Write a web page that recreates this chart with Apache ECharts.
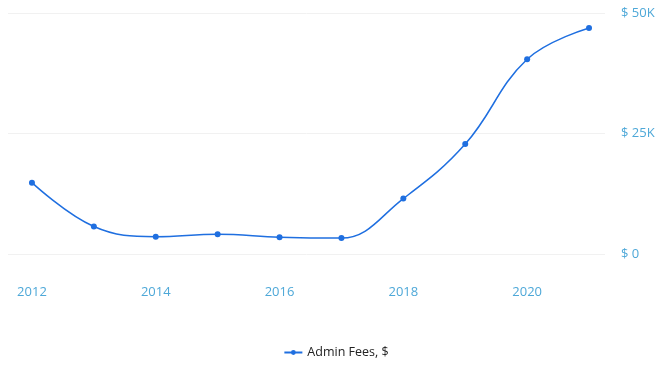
<!DOCTYPE html>
<html>
<head>
<meta charset="utf-8">
<script src="https://cdn.jsdelivr.net/npm/echarts@6/dist/echarts.min.js"></script>
<style>
  html, body { margin: 0; padding: 0; background: #fff; }
  #main { width: 672px; height: 368px; }
</style>
</head>
<body>
<div id="main"></div>
<script>
var years = [2012, 2013, 2014, 2015, 2016, 2017, 2018, 2019, 2020, 2021];
var adminFees = [14800, 5700, 3600, 4100, 3500, 3300, 11500, 22800, 40400, 46900];
var xTicks = [2012, 2014, 2016, 2018, 2020];
var yTicks = [0, 25000, 50000];

var chart = echarts.init(document.getElementById('main'));

var points = years.map(function (y, i) { return [y, adminFees[i]]; });

var option = {
    animation: false,
    textStyle: { fontFamily: 'Open Sans' },
    grid: { left: 8, right: 67, top: 13, bottom: 114 },
    legend: {
        bottom: 4,
        left: 'center',
        itemWidth: 18,
        itemHeight: 6,
        itemGap: 4,
        textStyle: { color: '#222', fontSize: 12.5 },
        data: ['Admin Fees, $']
    },
    xAxis: {
        type: 'value',
        min: 2011.613,
        max: 2021.258,
        axisLine: { show: false },
        axisTick: { show: false },
        splitLine: { show: false },
        axisLabel: {
            customValues: xTicks,
            color: '#4ea8d8',
            fontSize: 13,
            margin: 32,
            formatter: function (v) { return String(v); }
        }
    },
    yAxis: {
        type: 'value',
        position: 'right',
        min: yTicks[0],
        max: yTicks[2],
        interval: 25000,
        axisLine: { show: false },
        axisTick: { show: false },
        splitLine: { lineStyle: { color: '#f1f1f1' } },
        axisLabel: {
            color: '#4ea8d8',
            fontSize: 13,
            margin: 16,
            formatter: function (v) {
                return v === 0 ? '$ 0' : '$ ' + (v / 1000) + 'K';
            }
        }
    },
    series: [{
        name: 'Admin Fees, $',
        type: 'line',
        smooth: 0.4,
        data: points,
        symbol: 'circle',
        symbolSize: 6,
        lineStyle: { color: '#1f6fe0', width: 1.5 },
        itemStyle: { color: '#1f6fe0' }
    }]
};

chart.setOption(option);
</script>
</body>
</html>
